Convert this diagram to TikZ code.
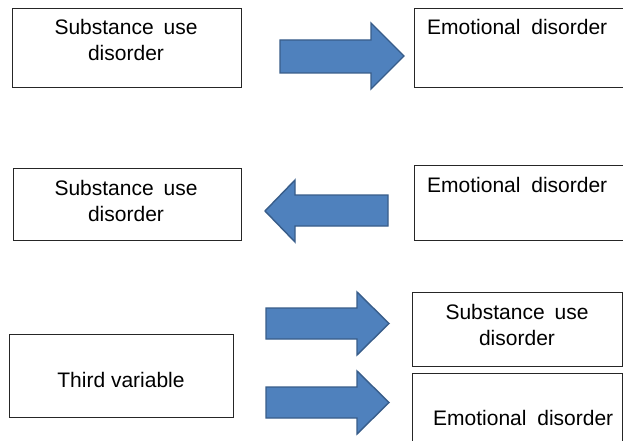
\documentclass[tikz,border=0pt]{standalone}
\usepackage{fontspec}
\setmainfont{Liberation Sans}
\definecolor{arrowblue}{HTML}{4F81BD}
\definecolor{arrowedge}{HTML}{385D8A}
\definecolor{boxline}{HTML}{262626}
\begin{document}
\begin{tikzpicture}[x=1pt,y=-1pt,
  box/.style={draw=boxline,line width=0.9pt,fill=white,rectangle,inner sep=0pt,anchor=north west},
  txt/.style={inner sep=0pt,anchor=base,font=\fontsize{21}{25}\selectfont,text=black},
  txtl/.style={txt,anchor=base west},
  blockarrow/.style={fill=arrowblue,draw=arrowedge,line width=1.4pt,line join=miter}]
\clip (0,0) rectangle (623,441);
\fill[white] (0,0) rectangle (623,441);
% boxes
\node[box,minimum width=229pt,minimum height=79pt] (b1) at (12,8) {};
\node[box,minimum width=226pt,minimum height=79pt] (b2) at (414,8) {};
\node[box,minimum width=228pt,minimum height=72pt] (b3) at (13,168) {};
\node[box,minimum width=226pt,minimum height=75pt] (b4) at (414,165) {};
\node[box,minimum width=224pt,minimum height=83pt] (b5) at (9,334) {};
\node[box,minimum width=210pt,minimum height=74pt] (b6) at (412,292) {};
\node[box,minimum width=210pt,minimum height=90pt] (b7) at (412,373) {};
% texts
\node[txt] (t1a) at (126,35) {Substance\hspace{4pt} use};
\node[txt] (t1b) at (126,61) {disorder};
\node[txtl] (t2) at (427,35) {Emotional\hspace{5pt} disorder};
\node[txt] (t3a) at (126,195) {Substance\hspace{4pt} use};
\node[txt] (t3b) at (126,221) {disorder};
\node[txtl] (t4) at (427,192) {Emotional\hspace{5pt} disorder};
\node[txt] (t5) at (121,387) {Third variable};
\node[txt] (t6a) at (517,319) {Substance\hspace{4pt} use};
\node[txt] (t6b) at (517,345) {disorder};
\node[txtl] (t7) at (433,425) {Emotional\hspace{5pt} disorder};
% block arrows
\draw[blockarrow] (280,40) -- (371,40) -- (371,23) -- (404,56) -- (371,89) -- (371,73) -- (280,73) -- cycle;
\draw[blockarrow] (388,195) -- (295,195) -- (295,180) -- (265,211) -- (295,242) -- (295,226) -- (388,226) -- cycle;
\draw[blockarrow] (266,308) -- (357,308) -- (357,292) -- (389,323.5) -- (357,355) -- (357,339) -- (266,339) -- cycle;
\draw[blockarrow] (266,387) -- (357,387) -- (357,371) -- (389,402.5) -- (357,434) -- (357,418) -- (266,418) -- cycle;
\end{tikzpicture}
\end{document}
